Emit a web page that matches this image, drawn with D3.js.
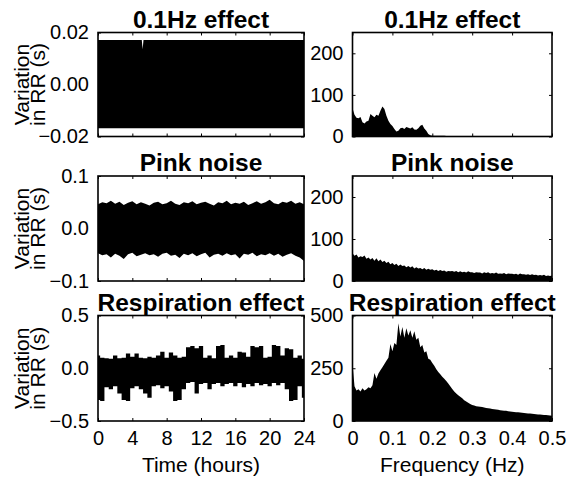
<!DOCTYPE html>
<html>
<head>
<meta charset="utf-8">
<script src="https://cdn.jsdelivr.net/npm/d3@7"></script>
<style>
  body { margin: 0; background: #fff; }
  svg { display: block; font-family: "Liberation Sans", Arial, Helvetica, sans-serif; }
  .tick line { stroke: #000; stroke-width: 1; }
  .tick text { font-size: 20px; fill: #000; }
</style>
</head>
<body>
<svg id="chart" width="568" height="481"></svg>
<script>
// ---- data ----
const titles = ['0.1Hz effect', 'Pink noise', 'Respiration effect'];

const hourTicks = [0, 4, 8, 12, 16, 20, 24];
const freqTicks = [0, 0.1, 0.2, 0.3, 0.4, 0.5];

// time-domain envelopes (upper / lower edge of the dense RR trace)
const osc01Hours = [0, 5.1, 5.2, 5.3, 24];
const osc01Upper = [0.0171, 0.0171, 0.0136, 0.0171, 0.0171];
const osc01Lower = [-0.0168, -0.0168, -0.0168, -0.0168, -0.0168];

// samples every half hour, 0..24
const halfHours = d3.range(49).map(i => i * 0.5);
const pinkUpper = [0.046, 0.050, 0.048, 0.053, 0.047, 0.051, 0.045, 0.049, 0.052, 0.046,
  0.050, 0.047, 0.044, 0.049, 0.051, 0.046, 0.048, 0.053, 0.047, 0.045,
  0.050, 0.048, 0.052, 0.046, 0.049, 0.051, 0.047, 0.044, 0.050, 0.048,
  0.053, 0.046, 0.049, 0.047, 0.051, 0.045, 0.048, 0.052, 0.047, 0.050,
  0.055, 0.048, 0.046, 0.051, 0.049, 0.053, 0.047, 0.050, 0.046];
const pinkLower = [-0.047, -0.051, -0.049, -0.055, -0.048, -0.052, -0.058, -0.049, -0.046, -0.053,
  -0.050, -0.047, -0.051, -0.049, -0.054, -0.048, -0.046, -0.052, -0.050, -0.056,
  -0.048, -0.051, -0.047, -0.053, -0.049, -0.046, -0.055, -0.050, -0.048, -0.052,
  -0.047, -0.051, -0.049, -0.057, -0.048, -0.050, -0.046, -0.053, -0.049, -0.051,
  -0.047, -0.052, -0.048, -0.054, -0.050, -0.047, -0.052, -0.055, -0.062];
const respUpper = [0.12, 0.10, 0.095, 0.09, 0.12, 0.095, 0.10, 0.14, 0.11, 0.14,
  0.10, 0.095, 0.11, 0.10, 0.12, 0.157, 0.10, 0.15, 0.12, 0.10,
  0.11, 0.20, 0.21, 0.19, 0.21, 0.10, 0.12, 0.095, 0.21, 0.22,
  0.10, 0.12, 0.10, 0.157, 0.15, 0.11, 0.21, 0.20, 0.21, 0.10,
  0.11, 0.22, 0.21, 0.12, 0.19, 0.18, 0.10, 0.12, 0.09];
const respLower = [-0.30, -0.31, -0.18, -0.20, -0.17, -0.24, -0.30, -0.31, -0.19, -0.17,
  -0.20, -0.24, -0.28, -0.17, -0.16, -0.19, -0.17, -0.22, -0.31, -0.30,
  -0.20, -0.14, -0.13, -0.24, -0.15, -0.14, -0.20, -0.15, -0.14, -0.17,
  -0.15, -0.14, -0.17, -0.14, -0.18, -0.15, -0.17, -0.14, -0.16, -0.15,
  -0.17, -0.14, -0.16, -0.14, -0.20, -0.31, -0.30, -0.17, -0.28];

// spectra, every 0.005 Hz from 0 to 0.5
const freqs = d3.range(101).map(i => i * 0.005);
const spec01 = [68, 52, 45, 44, 47, 34, 31, 36, 38, 54,
  50, 46, 52, 50, 62, 72, 66, 50, 38, 30,
  25, 18, 12, 14, 20, 21, 18, 23, 21, 19,
  22, 17, 16, 20, 26, 28, 19, 14, 6, 3,
  2, 2, 2, 2, 2, 2, 2, 1.5, 1.5, 1.5,
  1.5, 1.5, 1, 1, 0.5, 0.5, 0.5, 0.5, 0.5, 0.5,
  0.5, 0.5, 0.5, 0.5, 0.5, 0.5, 0.5, 0.5, 0.5, 0.5,
  0.5, 0.5, 0.5, 0.5, 0.5, 0.5, 0.5, 0.5, 0.5, 0.5,
  0.5, 0.5, 0.5, 0.5, 0.5, 0.5, 0.5, 0.5, 0.5, 0.5,
  0.5, 0.5, 0.5, 0.5, 0.5, 0.5, 0.5, 0.5, 0.5, 0.5, 0.5];
const specPink = [66, 60, 63, 56, 59, 57, 61, 53, 56, 51,
  55, 48, 54, 47, 51, 45, 48, 43, 46, 40,
  43, 38, 41, 36, 39, 36, 37, 33, 36, 32,
  35, 30, 33, 30, 31, 28, 31, 27, 29, 27,
  28, 25, 27, 24, 26, 24, 25, 22, 24, 23,
  24, 22, 24, 21, 23, 21, 22, 20, 23, 21,
  21, 19, 21, 20, 20, 18, 21, 19, 21, 18,
  19, 18, 20, 17, 18, 17, 19, 16, 18, 17,
  17, 16, 17, 15, 18, 16, 16, 15, 16, 14,
  16, 14, 15, 13, 14, 13, 15, 12, 13, 12, 13];
const specResp = [273, 165, 145, 150, 140, 155, 145, 150, 160, 155,
  170, 228, 200, 225, 240, 255, 270, 285, 300, 365,
  330, 370, 360, 463, 400, 445, 395, 440, 405, 430,
  395, 425, 385, 395, 350, 360, 325, 330, 295, 290,
  275, 262, 245, 232, 222, 210, 200, 190, 178, 165,
  152, 140, 130, 122, 115, 108, 98, 92, 86, 80,
  76, 74, 70, 69, 68, 66, 64, 62, 60, 59,
  57, 56, 54, 53, 51, 50, 49, 48, 46, 45,
  44, 43, 42, 41, 40, 39, 38, 37, 36, 35,
  34, 33, 32, 31, 31, 30, 29, 28, 27, 26, 25];

const leftYDomains = [[-0.02, 0.02], [-0.1, 0.1], [-0.5, 0.5]];
const leftYTicks = [[-0.02, 0, 0.02], [-0.1, 0, 0.1], [-0.5, 0, 0.5]];
const leftYFormats = ['.2f', '.1f', '.1f'];
const rightYDomains = [[0, 250], [0, 250], [0, 500]];
const rightYTicks = [[0, 100, 200], [0, 100, 200], [0, 250, 500]];

// ---- layout ----
const svg = d3.select('#chart');
const cols = [[98, 304], [352.5, 552]];
const rows = [[32.5, 136.5], [176, 281], [315.5, 421]];

const timeSeries = [
  { x: osc01Hours, hi: osc01Upper, lo: osc01Lower, curve: d3.curveLinear },
  { x: halfHours, hi: pinkUpper, lo: pinkLower, curve: d3.curveLinear },
  { x: halfHours, hi: respUpper, lo: respLower, curve: d3.curveStep }
];
const spectra = [spec01, specPink, specResp];

function drawFrame(g, x, y, xTicks, xFmt, yTicks, yFmt, showX) {
  const [x0, x1] = x.range();
  const [y0, y1] = y.range();
  const tick = 3;

  g.append('g').attr('transform', `translate(${x0},0)`)
    .call(d3.axisLeft(y).tickValues(yTicks).tickFormat(d3.format(yFmt))
      .tickSizeInner(-tick).tickSizeOuter(0).tickPadding(9));
  g.append('g').attr('transform', `translate(${x1},0)`)
    .call(d3.axisRight(y).tickValues(yTicks).tickFormat('')
      .tickSizeInner(-tick).tickSizeOuter(0));
  g.append('g').attr('transform', `translate(0,${y0})`)
    .call(d3.axisBottom(x).tickValues(xTicks).tickFormat(showX ? d3.format(xFmt) : '')
      .tickSizeInner(-tick).tickSizeOuter(0).tickPadding(10));
  g.append('g').attr('transform', `translate(0,${y1})`)
    .call(d3.axisTop(x).tickValues(xTicks).tickFormat('')
      .tickSizeInner(-tick).tickSizeOuter(0));
  g.selectAll('.domain').remove();
  g.selectAll('.tick text').attr('font-family', null).attr('font-size', null);

  g.append('rect')
    .attr('x', x0).attr('y', y1)
    .attr('width', x1 - x0).attr('height', y0 - y1)
    .attr('fill', 'none').attr('stroke', '#000').attr('stroke-width', 1.6);
}

function clipFor(id, x, y) {
  const [x0, x1] = x.range();
  const [y0, y1] = y.range();
  svg.append('clipPath').attr('id', id)
    .append('rect').attr('x', x0).attr('y', y1)
    .attr('width', x1 - x0).attr('height', y0 - y1);
  return `url(#${id})`;
}

rows.forEach(([top, bottom], r) => {
  const last = r === rows.length - 1;

  // left column: RR variation against time
  const xl = d3.scaleLinear().domain([0, 24]).range(cols[0]);
  const yl = d3.scaleLinear().domain(leftYDomains[r]).range([bottom, top]);
  const ts = timeSeries[r];
  const band = d3.area()
    .curve(ts.curve)
    .x(i => xl(ts.x[i]))
    .y0(i => yl(ts.lo[i]))
    .y1(i => yl(ts.hi[i]));
  const gl = svg.append('g');
  gl.append('path')
    .attr('clip-path', clipFor('clipL' + r, xl, yl))
    .attr('d', band(d3.range(ts.x.length)))
    .attr('fill', '#000');
  drawFrame(gl, xl, yl, hourTicks, 'd', leftYTicks[r], leftYFormats[r], last);

  // right column: spectrum
  const xr = d3.scaleLinear().domain([0, 0.5]).range(cols[1]);
  const yr = d3.scaleLinear().domain(rightYDomains[r]).range([bottom, top]);
  const spec = spectra[r];
  const fill = d3.area()
    .x(i => xr(freqs[i]))
    .y0(yr(0))
    .y1(i => yr(spec[i]));
  const gr = svg.append('g');
  gr.append('path')
    .attr('clip-path', clipFor('clipR' + r, xr, yr))
    .attr('d', fill(d3.range(freqs.length)))
    .attr('fill', '#000');
  drawFrame(gr, xr, yr, freqTicks, '~g', rightYTicks[r], 'd', last);

  // titles
  cols.forEach(([c0, c1]) => {
    svg.append('text')
      .attr('x', (c0 + c1) / 2).attr('y', top - 5)
      .attr('text-anchor', 'middle')
      .attr('font-size', 24.5).attr('font-weight', 'bold')
      .text(titles[r]);
  });

  // y label, two lines
  const mid = (top + bottom) / 2;
  [['Variation', 28.5], ['in RR (s)', 45]].forEach(([line, bx]) => {
    svg.append('text')
      .attr('transform', `translate(${bx},${mid}) rotate(-90)`)
      .attr('text-anchor', 'middle')
      .attr('font-size', 21)
      .text(line);
  });
});

// x labels
svg.append('text')
  .attr('x', (cols[0][0] + cols[0][1]) / 2).attr('y', 471.5)
  .attr('text-anchor', 'middle').attr('font-size', 21)
  .text('Time (hours)');
svg.append('text')
  .attr('x', (cols[1][0] + cols[1][1]) / 2).attr('y', 471.5)
  .attr('text-anchor', 'middle').attr('font-size', 21)
  .text('Frequency (Hz)');
</script>
</body>
</html>
